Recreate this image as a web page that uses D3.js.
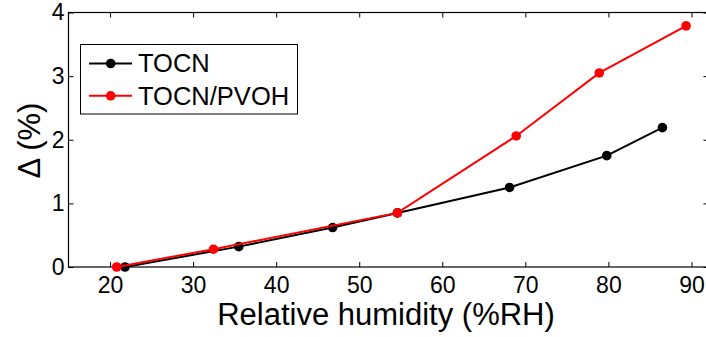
<!DOCTYPE html>
<html><head><meta charset="utf-8">
<script src="https://cdn.jsdelivr.net/npm/d3@7"></script>
<style>body{margin:0;background:#fff}svg{display:block}text{font-family:"Liberation Sans",Arial,sans-serif;fill:#000}</style>
</head><body><svg id="c" width="706" height="337"></svg>
<script>
const tocnX = [21.8, 35.5, 46.8, 54.6, 68.1, 79.8, 86.5];
const tocnY = [0.0, 0.32, 0.62, 0.85, 1.25, 1.75, 2.19];
const pvohX = [20.8, 32.45, 54.6, 68.9, 78.9, 89.35];
const pvohY = [0.0, 0.28, 0.85, 2.06, 3.05, 3.79];
const xTicks = [20, 30, 40, 50, 60, 70, 80, 90];
const yTicks = [0, 1, 2, 3, 4];
const seriesNames = ["TOCN", "TOCN/PVOH"];
const colors = ["#000000", "#ff0000"];

const svg = d3.select("#c");
const L = 68.5, R = 708.5, T = 12.5, B = 267;
const x = d3.scaleLinear().domain([15, 92.05]).range([L, R]);
const y = d3.scaleLinear().domain([0, 4]).range([B, T]);

svg.append("rect").attr("x", L).attr("y", T).attr("width", R - L).attr("height", B - T)
  .attr("fill", "none").attr("stroke", "#000").attr("stroke-width", 1.2);

const tl = 5;
const g = svg.append("g");
const xb = g.append("g").attr("transform", `translate(0,${B})`)
  .call(d3.axisBottom(x).tickValues(xTicks).tickSize(-tl).tickPadding(10).tickFormat(d3.format("d")));
const xt = g.append("g").attr("transform", `translate(0,${T})`)
  .call(d3.axisTop(x).tickValues(xTicks).tickSize(-tl).tickFormat(""));
const yl = g.append("g").attr("transform", `translate(${L},0)`)
  .call(d3.axisLeft(y).tickValues(yTicks).tickSize(-tl).tickPadding(5).tickFormat(d3.format("d")));
const yr = g.append("g").attr("transform", `translate(${R},0)`)
  .call(d3.axisRight(y).tickValues(yTicks).tickSize(-tl).tickFormat(""));
[xb, xt, yl, yr].forEach(a => {
  a.select(".domain").remove();
  a.selectAll("line").attr("stroke", "#000").attr("stroke-width", 1);
  a.selectAll("text").style("font-size", "23px").attr("fill", "#000");
});
xb.selectAll("text").attr("dy", null).attr("y", 293 - B + 0).attr("dominant-baseline", null);
yl.selectAll("text").attr("x", -4);

const datasets = [
  {name: seriesNames[0], xs: tocnX, ys: tocnY, color: colors[0]},
  {name: seriesNames[1], xs: pvohX, ys: pvohY, color: colors[1]}
];
const line = d3.line().x(d => x(d[0])).y(d => y(d[1]));
datasets.forEach(ds => {
  const pts = ds.xs.map((v, i) => [v, ds.ys[i]]);
  svg.append("path").datum(pts).attr("d", line).attr("fill", "none")
    .attr("stroke", ds.color).attr("stroke-width", 2);
  svg.selectAll(null).data(pts).enter().append("circle")
    .attr("cx", d => x(d[0])).attr("cy", d => y(d[1])).attr("r", 4.8).attr("fill", ds.color);
});

const lg = svg.append("g");
lg.append("rect").attr("x", 80.5).attr("y", 44.5).attr("width", 217).attr("height", 69.5)
  .attr("fill", "#fff").attr("stroke", "#000").attr("stroke-width", 1);
datasets.forEach((ds, i) => {
  const yy = 63.5 + i * 32.3;
  lg.append("line").attr("x1", 89).attr("x2", 132).attr("y1", yy).attr("y2", yy)
    .attr("stroke", ds.color).attr("stroke-width", 2);
  lg.append("circle").attr("cx", 110.7).attr("cy", yy).attr("r", 4.8).attr("fill", ds.color);
  lg.append("text").attr("x", 138).attr("y", yy + 8.8).style("font-size", "25.5px").text(ds.name);
});

svg.append("text").attr("x", 386).attr("y", 325).attr("text-anchor", "middle")
  .style("font-size", "31px").text("Relative humidity (%RH)");
svg.append("text").attr("transform", "translate(40,140.5) rotate(-90)").attr("text-anchor", "middle")
  .style("font-size", "31px").text("Δ (%)");
</script></body></html>
